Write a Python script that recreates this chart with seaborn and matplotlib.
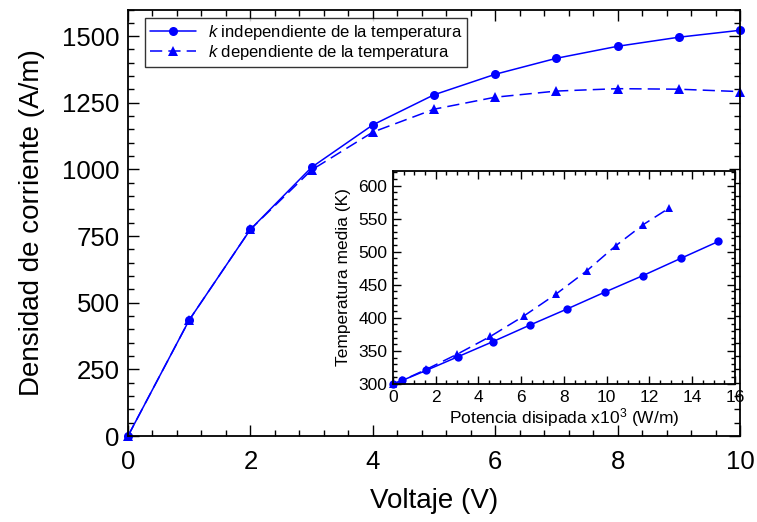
import matplotlib
matplotlib.use("Agg")
import matplotlib.pyplot as plt
from matplotlib.ticker import MultipleLocator
import seaborn as sns
import pandas as pd

# Current density vs. voltage
voltaje = [0, 1, 2, 3, 4, 5, 6, 7, 8, 9, 10]
j_independiente = [0, 435, 775, 1008, 1167, 1280, 1357, 1417, 1462, 1496, 1522]
j_dependiente = [0, 435, 775, 998, 1140, 1226, 1271, 1294, 1303, 1301, 1292]

# Mean temperature vs. dissipated power (x10^3 W/m)
pot_independiente = [0.0, 0.44, 1.55, 3.02, 4.67, 6.40, 8.15, 9.92, 11.70, 13.47, 15.22]
t_independiente = [300, 305.5, 320.5, 341, 364, 389, 413.5, 439, 464, 490, 515.5]
pot_dependiente = [0.0, 0.44, 1.55, 3.00, 4.56, 6.13, 7.63, 9.06, 10.42, 11.71, 12.92]
t_dependiente = [300, 305.5, 322, 345, 372, 403, 436, 471, 509, 541, 566]

etiqueta_ind = r"$k$ independiente de la temperatura"
etiqueta_dep = r"$k$ dependiente de la temperatura"

sns.set_theme(style="ticks")
plt.rcParams["font.family"] = ["Liberation Sans", "DejaVu Sans"]
plt.rcParams["mathtext.fontset"] = "custom"
plt.rcParams["mathtext.rm"] = "Liberation Sans"
plt.rcParams["mathtext.it"] = "Liberation Sans:italic"
plt.rcParams["axes.linewidth"] = 1.3
plt.rcParams["text.color"] = "black"
plt.rcParams["axes.labelcolor"] = "black"

AZUL = "#0000ff"

W, H = 757, 522
fig = plt.figure(figsize=(W / 100, H / 100), dpi=100)


def caja(l, t, r, b):
    return [l / W, 1 - b / H, (r - l) / W, (b - t) / H]


def estilo_ticks(ax, size, major_len, minor_len):
    ax.tick_params(which="both", direction="in", top=True, right=True,
                   color="black", width=1.0, labelsize=size, pad=6,
                   labelcolor="black")
    ax.tick_params(which="major", length=major_len)
    ax.tick_params(which="minor", length=minor_len)
    for s in ax.spines.values():
        s.set_color("black")
        s.set_visible(True)


# Main axes
ax = fig.add_axes(caja(128, 9.5, 740, 436))
df_main = pd.DataFrame({
    "V": voltaje * 2,
    "J": j_independiente + j_dependiente,
    "serie": [etiqueta_ind] * len(voltaje) + [etiqueta_dep] * len(voltaje),
})
sns.lineplot(data=df_main[df_main.serie == etiqueta_ind], x="V", y="J",
             ax=ax, color=AZUL, lw=1.1, marker="o", markersize=6.5,
             markeredgewidth=0, label=etiqueta_ind)
sns.lineplot(data=df_main[df_main.serie == etiqueta_dep], x="V", y="J",
             ax=ax, color=AZUL, lw=1.1, marker="^", markersize=6.5,
             markeredgewidth=0, dashes=(8, 4), label=etiqueta_dep)
for ln in ax.lines:
    ln.set_clip_on(False)
ax.set_xlim(0, 10)
ax.set_ylim(0, 1600)
ax.xaxis.set_major_locator(MultipleLocator(2))
ax.xaxis.set_minor_locator(MultipleLocator(0.4))
ax.yaxis.set_major_locator(MultipleLocator(250))
ax.yaxis.set_minor_locator(MultipleLocator(50))
ax.set_yticks([0, 250, 500, 750, 1000, 1250, 1500])
estilo_ticks(ax, 18.5, 8, 4)
ax.tick_params(axis="x", pad=10)
ax.set_xlabel("Voltaje (V)", fontsize=20, labelpad=10, color="black")
ax.set_ylabel("Densidad de corriente (A/m)", fontsize=20, labelpad=12,
              color="black")
leg = ax.legend(loc="upper left", bbox_to_anchor=(0.027, 0.98), fontsize=12,
                frameon=True, fancybox=False, edgecolor="black",
                handlelength=2.8, handletextpad=0.7, borderpad=0.3,
                labelspacing=0.05, borderaxespad=0)
leg.get_frame().set_linewidth(1.0)
for t in leg.get_texts():
    t.set_color("black")

# Inset axes
axi = fig.add_axes(caja(393, 171, 735, 384))
sns.lineplot(x=pot_independiente, y=t_independiente, ax=axi, color=AZUL,
             lw=1.1, marker="o", markersize=6, markeredgewidth=0)
sns.lineplot(x=pot_dependiente, y=t_dependiente, ax=axi, color=AZUL,
             lw=1.1, marker="^", markersize=6, markeredgewidth=0,
             dashes=(8, 4))
for ln in axi.lines:
    ln.set_clip_on(False)
axi.set_xlim(0, 16)
axi.set_ylim(300, 622)
axi.xaxis.set_major_locator(MultipleLocator(2))
axi.xaxis.set_minor_locator(MultipleLocator(0.5))
axi.set_yticks([300, 350, 400, 450, 500, 550, 600])
axi.yaxis.set_minor_locator(MultipleLocator(10))
estilo_ticks(axi, 12.5, 6, 3)
axi.tick_params(pad=4)
axi.set_xlabel(r"Potencia disipada x10$^3$ (W/m)", fontsize=12.5, labelpad=1,
               color="black")
axi.set_ylabel("Temperatura media (K)", fontsize=12.5, labelpad=5,
               color="black")

fig.savefig("out.png", dpi=100)
